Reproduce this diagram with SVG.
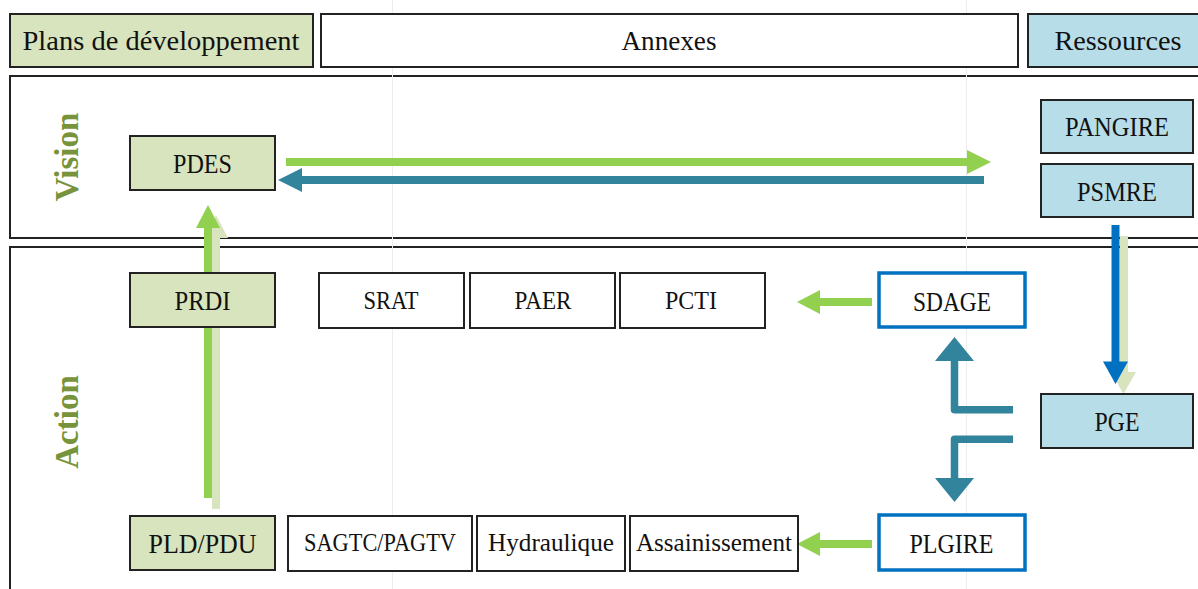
<svg xmlns="http://www.w3.org/2000/svg" width="1198" height="589" viewBox="0 0 1198 589">
  <style>
    .lbl { font-family: "Liberation Serif", "DejaVu Serif", serif; fill: #111; text-anchor: middle; }
    .big { font-size: 28px; }
    .mid { font-size: 28px; }
    .sm { font-size: 25px; }
    .row { fill: #fff; stroke: #222; stroke-width: 2; }
    .grid { stroke: #ededed; stroke-width: 1; }
    .plan { fill: #d7e4bd; stroke: #222; stroke-width: 2; }
    .res { fill: #b7dde8; stroke: #222; stroke-width: 2; }
    .ann { fill: #fff; stroke: #222; stroke-width: 2; }
    .eau { fill: #fff; stroke: #0070c0; stroke-width: 3.5; }
    .side { font-family: "Liberation Serif", "DejaVu Serif", serif; font-size: 33px; font-weight: bold; fill: #77933c; text-anchor: middle; }
    .g { fill: #92d050; }
    .t { fill: #31849b; }
    .b { fill: #0070c0; }
    .sh { fill: #d7e4bd; }
    .tline { fill: none; stroke: #31849b; stroke-width: 7.5; stroke-linejoin: round; }
  </style>

  <!-- table rows -->
  <g id="rows">
    <rect class="row" x="10" y="76" width="1200" height="162"/>
    <rect class="row" x="10" y="247" width="1200" height="360"/>
    <line class="grid" x1="392.5" y1="0" x2="392.5" y2="589"/>
    <line class="grid" x1="966.5" y1="0" x2="966.5" y2="589"/>
  </g>

  <!-- column headers -->
  <g id="head-plans">
    <rect class="plan" x="10" y="14" width="303" height="53"/>
    <text class="lbl big" x="161" y="50" textLength="277" lengthAdjust="spacingAndGlyphs">Plans de développement</text>
  </g>
  <g id="head-annexes">
    <rect class="ann" x="321" y="14" width="697" height="53"/>
    <text class="lbl big" x="669" y="50" textLength="95" lengthAdjust="spacingAndGlyphs">Annexes</text>
  </g>
  <g id="head-ressources">
    <rect class="res" x="1028" y="14" width="182" height="53"/>
    <text class="lbl big" x="1118" y="50" textLength="127" lengthAdjust="spacingAndGlyphs">Ressources</text>
  </g>

  <!-- row labels -->
  <g id="label-vision">
    <text class="side" transform="translate(78,157) rotate(-90)">Vision</text>
  </g>
  <g id="label-action">
    <text class="side" transform="translate(78,422) rotate(-90)">Action</text>
  </g>

  <!-- connectors -->
  <g id="connectors">
    <!-- PDES -> ressources / ressources -> PDES -->
    <rect class="g" x="286" y="158" width="682" height="8"/>
    <polygon class="g" points="967,150 991,162 967,174"/>
    <rect class="t" x="301" y="176" width="683" height="8"/>
    <polygon class="t" points="302,168 278,180 302,192"/>

    <!-- PLD/PDU -> PDES (with soft shadow) -->
    <rect class="sh" x="212" y="236" width="8" height="273"/>
    <polygon class="sh" points="204,238 216,215 228,238"/>
    <rect class="g" x="204" y="226" width="8" height="272"/>
    <polygon class="g" points="196,228 208,205 220,228"/>

    <!-- PSMRE -> PGE (with soft shadow) -->
    <rect class="sh" x="1120" y="236" width="8" height="138"/>
    <polygon class="sh" points="1111,372 1136,372 1123.5,394"/>
    <rect class="b" x="1111.5" y="225" width="8" height="138"/>
    <polygon class="b" points="1103,361.5 1128,361.5 1115.5,384"/>

    <!-- PGE -> SDAGE / PLGIRE -->
    <path class="tline" d="M1013,409.7 L954.5,409.7 L954.5,359"/>
    <polygon class="t" points="935,361 954.5,337 974,361"/>
    <path class="tline" d="M1013,439.3 L954.5,439.3 L954.5,480"/>
    <polygon class="t" points="935,478 954.5,502 974,478"/>

    <!-- SDAGE -> annexes, PLGIRE -> annexes -->
    <rect class="g" x="818" y="298" width="54" height="8"/>
    <polygon class="g" points="820,290 797,302 820,314"/>
    <rect class="g" x="818" y="540" width="54" height="8"/>
    <polygon class="g" points="820,532 797,544 820,556"/>
  </g>

  <!-- vision nodes -->
  <g id="pdes">
    <rect class="plan" x="130" y="136" width="145" height="54"/>
    <text class="lbl mid" x="202.5" y="173" textLength="59" lengthAdjust="spacingAndGlyphs">PDES</text>
  </g>
  <g id="pangire">
    <rect class="res" x="1041" y="100" width="152" height="53"/>
    <text class="lbl mid" x="1117" y="136" textLength="104" lengthAdjust="spacingAndGlyphs">PANGIRE</text>
  </g>
  <g id="psmre">
    <rect class="res" x="1041" y="164" width="152" height="53"/>
    <text class="lbl mid" x="1117" y="200.5" textLength="80" lengthAdjust="spacingAndGlyphs">PSMRE</text>
  </g>

  <!-- action nodes -->
  <g id="prdi">
    <rect class="plan" x="130" y="273" width="145" height="54"/>
    <text class="lbl mid" x="202.5" y="310" textLength="56" lengthAdjust="spacingAndGlyphs">PRDI</text>
  </g>
  <g id="srat">
    <rect class="ann" x="319" y="273" width="145" height="55"/>
    <text class="lbl sm" x="391" y="308.5" textLength="55" lengthAdjust="spacingAndGlyphs">SRAT</text>
  </g>
  <g id="paer">
    <rect class="ann" x="470" y="273" width="145" height="55"/>
    <text class="lbl sm" x="543" y="308.5" textLength="57" lengthAdjust="spacingAndGlyphs">PAER</text>
  </g>
  <g id="pcti">
    <rect class="ann" x="620" y="273" width="145" height="55"/>
    <text class="lbl sm" x="691" y="308.5" textLength="52" lengthAdjust="spacingAndGlyphs">PCTI</text>
  </g>
  <g id="sdage">
    <rect class="eau" x="879" y="273" width="146" height="54"/>
    <text class="lbl mid" x="952" y="310.5" textLength="78" lengthAdjust="spacingAndGlyphs">SDAGE</text>
  </g>
  <g id="pge">
    <rect class="res" x="1041" y="394" width="152" height="54"/>
    <text class="lbl mid" x="1117" y="430.5" textLength="45" lengthAdjust="spacingAndGlyphs">PGE</text>
  </g>
  <g id="pld-pdu">
    <rect class="plan" x="130" y="516" width="145" height="54"/>
    <text class="lbl mid" x="202.5" y="552.5" textLength="108" lengthAdjust="spacingAndGlyphs">PLD/PDU</text>
  </g>
  <g id="sagtc-pagtv">
    <rect class="ann" x="288" y="516" width="184" height="55"/>
    <text class="lbl sm" x="380" y="551" textLength="152" lengthAdjust="spacingAndGlyphs">SAGTC/PAGTV</text>
  </g>
  <g id="hydraulique">
    <rect class="ann" x="477" y="516" width="148" height="55"/>
    <text class="lbl sm" x="551" y="551" textLength="126" lengthAdjust="spacingAndGlyphs">Hydraulique</text>
  </g>
  <g id="assainissement">
    <rect class="ann" x="630" y="516" width="168" height="55"/>
    <text class="lbl sm" x="714" y="551" textLength="156" lengthAdjust="spacingAndGlyphs">Assainissement</text>
  </g>
  <g id="plgire">
    <rect class="eau" x="879" y="515" width="146" height="55"/>
    <text class="lbl mid" x="951.5" y="553" textLength="84" lengthAdjust="spacingAndGlyphs">PLGIRE</text>
  </g>
</svg>
